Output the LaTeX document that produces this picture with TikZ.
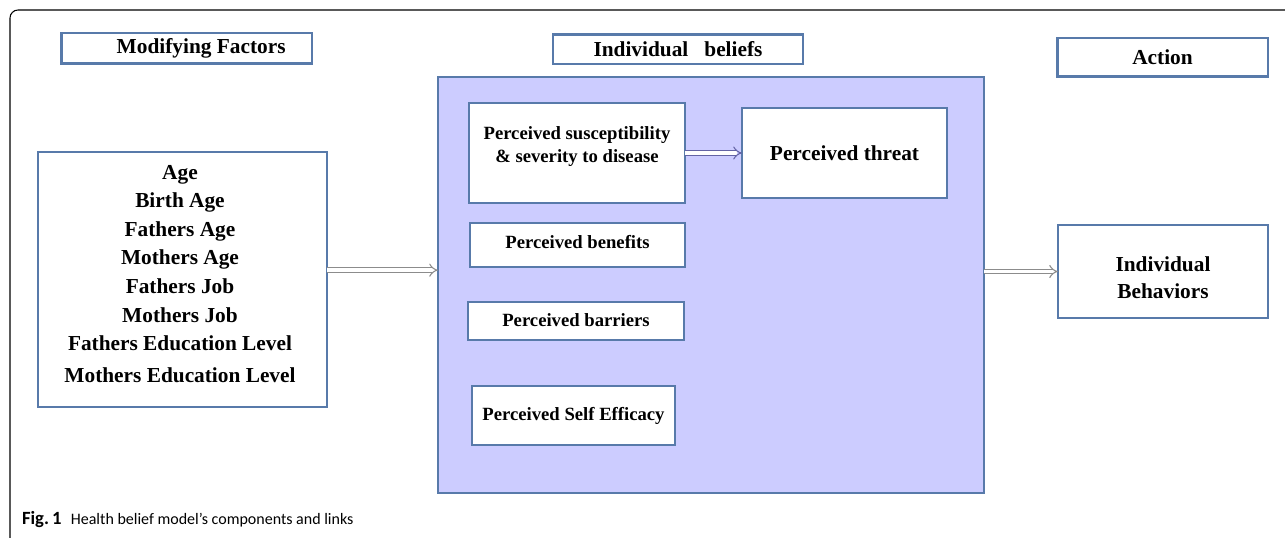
\documentclass[tikz,border=0pt]{standalone}
\usepackage{fontspec}
\setmainfont{Liberation Serif}
\newfontfamily\captionfont{Carlito}
\usetikzlibrary{arrows.meta}
\definecolor{boxline}{RGB}{88,122,170}
\definecolor{beliefblue}{RGB}{204,204,255}
\definecolor{linkgray}{RGB}{140,140,140}
\definecolor{linkblue}{RGB}{100,100,165}
\begin{document}
\begin{tikzpicture}[x=0.75pt, y=-0.75pt, font=\bfseries, every node/.style={outer sep=0pt, inner sep=0pt, align=center}, box/.style={draw=boxline, line width=2pt, fill=white}, link/.style={draw=linkgray, double=white, double distance=2.6pt, line width=0.8pt, -{Implies}}]
    \useasboundingbox (0,0) rectangle (1285,538);
    % frame of the figure
    \draw[line width=0.8pt, rounded corners=6pt] (10,538) -- (10,10) -- (1285,10);
    % column headings
    \node[box, minimum width=188pt, minimum height=23pt, font=\bfseries\fontsize{16}{19}\selectfont] (modhead) at (186.5, 48.5) {\hspace{22pt}Modifying Factors};
    \node[box, minimum width=187.5pt, minimum height=22pt, font=\bfseries\fontsize{16}{19}\selectfont] (beliefhead) at (678, 49.5) {Individual\ \ \ beliefs};
    \node[box, minimum width=158pt, minimum height=29pt, font=\bfseries\fontsize{16}{19}\selectfont] (actionhead) at (1162.5, 57.5) {Action};
    % modifying factors
    \node[box, minimum width=216.75pt, minimum height=191pt] (factors) at (182.5, 279.5) {};
    \node[font=\bfseries\fontsize{16}{21.4}\selectfont] (factorlist) at (180, 274) {Age\\Birth Age\\Fathers Age\\Mothers Age\\Fathers Job\\Mothers Job\\Fathers Education Level\\[2.5pt]Mothers Education Level};
    % individual beliefs
    \node[box, fill=beliefblue, minimum width=409.5pt, minimum height=312pt] (beliefs) at (711, 285) {};
    \node[box, minimum width=162pt, minimum height=75pt] (suscept) at (577, 153) {};
    \node[font=\bfseries\fontsize{14}{17.3}\selectfont] (suscepttext) at (577, 147) {Perceived susceptibility\\\& severity to disease};
    \node[box, minimum width=153.75pt, minimum height=67.5pt, font=\bfseries\fontsize{16}{19}\selectfont] (threat) at (844.5, 153) {Perceived threat};
    \node[box, minimum width=161.25pt, minimum height=33pt, font=\bfseries\fontsize{14}{17}\selectfont] (benefits) at (577.5, 245) {\raisebox{4pt}{Perceived benefits}};
    \node[box, minimum width=162pt, minimum height=28.5pt, font=\bfseries\fontsize{14}{17}\selectfont] (barriers) at (576, 321) {\raisebox{2pt}{Perceived barriers}};
    \node[box, minimum width=152.25pt, minimum height=44.25pt, font=\bfseries\fontsize{14}{17}\selectfont] (efficacy) at (573.5, 415.5) {Perceived Self Efficacy};
    % action
    \node[box, minimum width=157.5pt, minimum height=69.75pt] (behaviors) at (1163, 271.5) {};
    \node[font=\bfseries\fontsize{16}{20}\selectfont] (behaviortext) at (1163, 278) {Individual\\Behaviors};
    % links
    \draw[link] ([yshift=7pt]factors.east) -- ([yshift=7pt]factors.east -| beliefs.west);
    \draw[link, draw=linkblue] (suscept.east |- threat.west) -- (threat.west);
    \draw[link] (beliefs.east |- behaviors.west) -- (behaviors.west);
    % caption
    \node[anchor=west, font=\captionfont\fontsize{12}{14}\selectfont] (caption) at (22, 520) {{\fontsize{14}{16}\selectfont\bfseries Fig.\,1}\hspace{7pt}Health belief model’s components and links};
\end{tikzpicture}
\end{document}
